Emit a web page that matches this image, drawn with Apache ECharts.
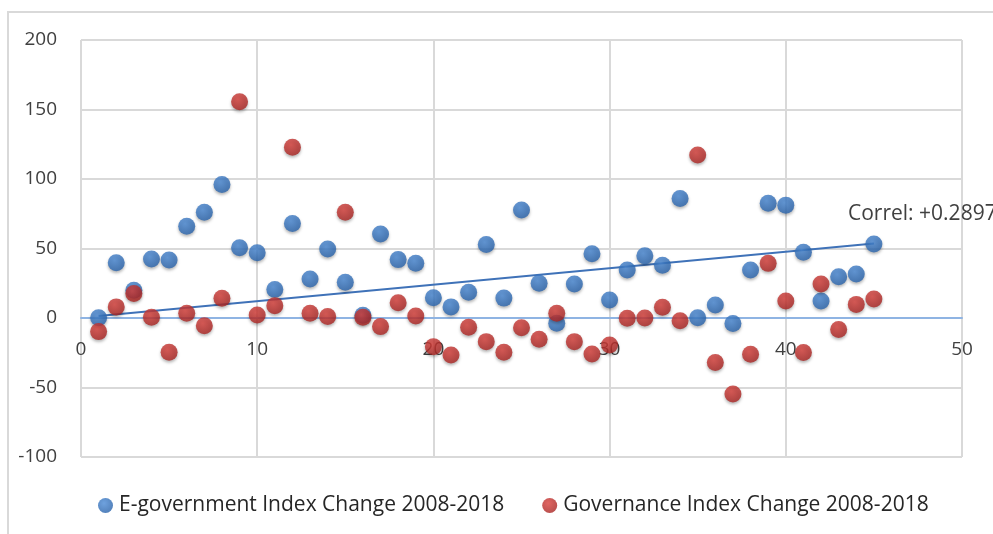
<!DOCTYPE html>
<html>
<head>
<meta charset="utf-8">
<script src="https://cdn.jsdelivr.net/npm/echarts@6/dist/echarts.min.js"></script>
<style>
  html, body { margin: 0; padding: 0; background: #fff; }
  #chart { width: 993px; height: 534px; }
</style>
</head>
<body>
<div id="chart"></div>
<script>
// x positions (country index) shared by both series
const xIndex = [1,2,3,4,5,6,7,8,9,10,11,12,13,14,15,16,17,18,19,20,21,22,23,24,25,26,27,28,29,30,31,32,33,34,35,36,37,38,39,40,41,42,43,44,45];

const eGovChange = [0.2,39.8,20,42.4,41.7,66,76,96,50.5,47,20.5,68,28,49.6,25.8,2,60.5,42,39.4,14.5,8,18.6,52.8,14.3,77.7,25,-3.8,24.5,46.3,13,34.5,44.7,38,86,0.2,9.4,-4,34.5,82.6,81.2,47.3,12.2,29.6,31.7,53.2];

const govChange = [-9.8,8,17.6,0.5,-24.7,3.4,-5.6,14.2,155.6,2.2,8.9,122.8,3.4,1,76,0.5,-6.2,11,1.4,-20.6,-26.6,-6.7,-17,-24.7,-7,-15.3,3.4,-17,-25.9,-19.4,-0.2,0,7.7,-1.9,117.3,-32,-54.7,-26,39.3,12.2,-24.9,24.5,-8.2,9.8,13.7];

// hand-drawn trend line endpoints
const trendLine = [[1, 1.4], [45, 53.6]];
const correlText = 'Correl: +0.2897';

const xTicks = { min: 0, max: 50, interval: 10 };
const yTicks = { min: -100, max: 200, interval: 50 };

const FONT = 'Open Sans';
const GRID = { left: 81, right: 31, top: 40, bottom: 77 };
const plotHeight = 534 - GRID.top - GRID.bottom;
// x axis crosses at y = 0, so lift it from the bottom edge of the grid
const xAxisLift = plotHeight * (0 - yTicks.min) / (yTicks.max - yTicks.min);

function ball(light, dark) {
    return new echarts.graphic.RadialGradient(0.4, 0.35, 0.7, [
        { offset: 0, color: light },
        { offset: 1, color: dark }
    ]);
}

const chart = echarts.init(document.getElementById('chart'), null, { renderer: 'canvas' });

chart.setOption({
    animation: false,
    backgroundColor: '#fff',
    textStyle: { fontFamily: FONT },
    grid: Object.assign({ containLabel: false }, GRID),
    legend: {
        left: 93,
        top: 490,
        itemWidth: 15,
        itemHeight: 15,
        itemGap: 38,
        icon: 'circle',
        textStyle: { fontFamily: FONT, fontSize: 21, color: '#262626', padding: [0, 0, 0, 1] },
        data: ['E-government Index Change 2008-2018', 'Governance Index Change 2008-2018']
    },
    xAxis: {
        type: 'value',
        position: 'bottom',
        offset: -xAxisLift,
        min: xTicks.min,
        max: xTicks.max,
        interval: xTicks.interval,
        axisLine: { show: true, onZero: false, lineStyle: { color: '#8fb4e3', width: 2 } },
        axisTick: { show: false },
        axisLabel: { fontSize: 19, color: '#404040', margin: 22, fontFamily: FONT },
        splitLine: { show: true, lineStyle: { color: '#d9d9d9', width: 2 } }
    },
    yAxis: {
        type: 'value',
        min: yTicks.min,
        max: yTicks.max,
        interval: yTicks.interval,
        axisLine: { show: false },
        axisTick: { show: false },
        axisLabel: { fontSize: 19, color: '#404040', margin: 24, fontFamily: FONT },
        splitLine: { show: true, lineStyle: { color: '#d9d9d9', width: 2 } }
    },
    graphic: [
        {
            type: 'rect',
            shape: { x: 8, y: 12, width: 1000, height: 540 },
            style: { fill: 'none', stroke: '#d9d9d9', lineWidth: 2 },
            silent: true,
            z: -1
        },
        {
            type: 'text',
            left: 848,
            top: 204,
            style: { text: correlText, fontFamily: FONT, fontSize: 21, fill: '#404040' },
            z: 100
        }
    ],
    series: [
        {
            name: 'E-government Index Change 2008-2018',
            type: 'scatter',
            symbolSize: 17,
            data: xIndex.map((x, i) => [x, eGovChange[i]]),
            itemStyle: {
                color: ball('#4a8ad6', '#2660a8'),
                shadowBlur: 3,
                shadowColor: 'rgba(0,0,0,0.35)',
                shadowOffsetY: 2
            },
            z: 3
        },
        {
            name: 'Governance Index Change 2008-2018',
            type: 'scatter',
            symbolSize: 17,
            data: xIndex.map((x, i) => [x, govChange[i]]),
            itemStyle: {
                color: ball('#d9403b', '#a52220'),
                shadowBlur: 3,
                shadowColor: 'rgba(0,0,0,0.35)',
                shadowOffsetY: 2
            },
            z: 4
        },
        {
            name: 'trend',
            type: 'line',
            data: trendLine,
            symbol: 'none',
            lineStyle: { color: '#3f72b8', width: 2 },
            z: 2,
            silent: true
        }
    ]
});
</script>
</body>
</html>
